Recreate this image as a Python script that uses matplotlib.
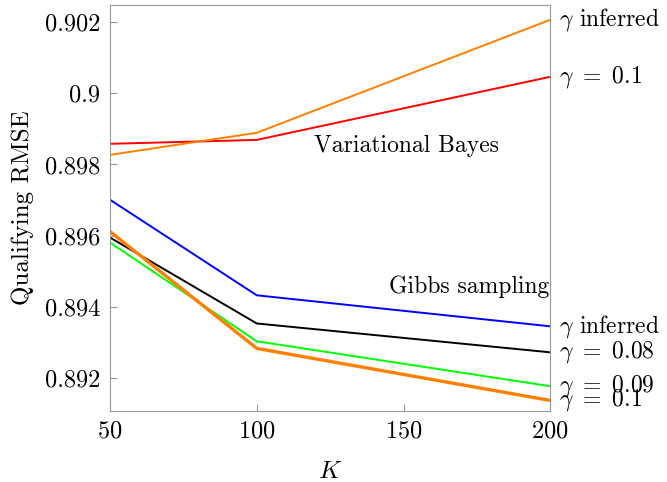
import matplotlib.pyplot as plt
import numpy as np

plt.rcParams['font.family'] = 'cmr10'
plt.rcParams['mathtext.fontset'] = 'cm'
plt.rcParams['axes.formatter.use_mathtext'] = True

K = [50, 100, 200]

# Variational Bayes
vb_inferred = [0.89827, 0.89889, 0.90206]
vb_01 = [0.89858, 0.89869, 0.90046]

# Gibbs sampling
gs_inferred = [0.89701, 0.89433, 0.89346]
gs_008 = [0.89595, 0.89354, 0.89273]
gs_009 = [0.89581, 0.89304, 0.89178]
gs_01 = [0.89612, 0.89284, 0.89138]

series = [
    (vb_01, 'red', 1.4, r'$\gamma\ =\ 0.1$'),
    (vb_inferred, '#ff8000', 1.4, r'$\gamma$ inferred'),
    (gs_inferred, 'blue', 1.4, r'$\gamma$ inferred'),
    (gs_008, 'black', 1.4, r'$\gamma\ =\ 0.08$'),
    (gs_009, '#00ff00', 1.4, r'$\gamma\ =\ 0.09$'),
    (gs_01, '#ff8000', 2.4, r'$\gamma\ =\ 0.1$'),
]

fig = plt.figure(figsize=(6.67, 4.82), dpi=100)
ax = fig.add_axes([0.165, 0.147, 0.66, 0.843])

for vals, col, lw, lab in series:
    ax.plot(K, vals, color=col, lw=lw)
    ax.annotate(lab, xy=(K[-1], vals[-1]), xytext=(6, 0), textcoords='offset points',
                va='center', ha='left', fontsize=17, annotation_clip=False)

ax.text(151, 0.89853, 'Variational Bayes', ha='center', va='center', fontsize=17)
ax.text(199.5, 0.89458, 'Gibbs sampling', ha='right', va='center', fontsize=17)

ax.set_xlim(50, 200)
ax.set_ylim(0.89108, 0.90248)
ax.set_xticks([50, 100, 150, 200])
ax.set_yticks([0.892, 0.894, 0.896, 0.898, 0.9, 0.902])
ax.set_yticklabels(['0.892', '0.894', '0.896', '0.898', '0.9', '0.902'])
ax.tick_params(direction='in', length=5, color='0.6', labelsize=17.5, pad=7)
for s in ax.spines.values():
    s.set_color('0.6')
ax.set_xlabel(r'$K$', fontsize=18, labelpad=13)
ax.set_ylabel('Qualifying RMSE', fontsize=18, labelpad=8)

fig.savefig('out.png', dpi=100)
